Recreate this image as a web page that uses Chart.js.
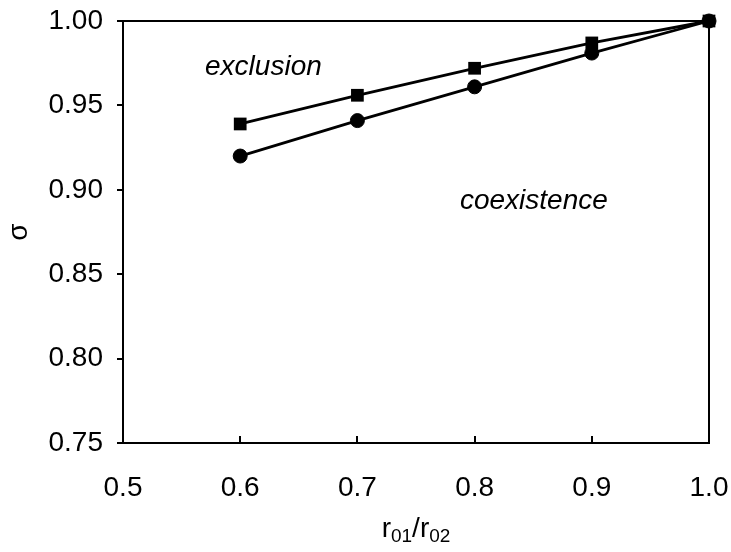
<!DOCTYPE html>
<html>
<head>
<meta charset="utf-8">
<script src="https://cdn.jsdelivr.net/npm/chart.js@4.4.1/dist/chart.umd.min.js"></script>
<style>
  html, body { margin: 0; padding: 0; background: #fff; }
  #wrap { width: 731px; height: 552px; }
</style>
</head>
<body>
<div id="wrap"><canvas id="grafik" width="731" height="552"></canvas></div>
<script>
// data
const ratioX = [0.6, 0.7, 0.8, 0.9, 1.0];
const sigmaKotak = [0.939, 0.956, 0.972, 0.987, 1.0];   // squares
const sigmaBulat = [0.920, 0.941, 0.961, 0.981, 1.0];   // circles
const xTicks = [0.5, 0.6, 0.7, 0.8, 0.9, 1.0];
const yTicks = [0.75, 0.80, 0.85, 0.90, 0.95, 1.00];

const FONT = "'Liberation Sans', Arial, sans-serif";

// frame on top/right, inner x ticks, annotations and x title with subscripts
const bingkaiPlugin = {
  id: 'bingkai',
  afterDraw(chart) {
    const { ctx, chartArea: a, scales } = chart;
    ctx.save();
    ctx.strokeStyle = '#000';
    ctx.lineWidth = 2;
    ctx.strokeRect(a.left, a.top, a.right - a.left, a.bottom - a.top);

    // x ticks point inward
    ctx.beginPath();
    xTicks.slice(1, -1).forEach(v => {
      const px = Math.round(scales.x.getPixelForValue(v));
      ctx.moveTo(px, a.bottom);
      ctx.lineTo(px, a.bottom - 7);
    });
    ctx.stroke();

    // region labels
    ctx.fillStyle = '#000';
    ctx.font = "italic 28px " + FONT;
    ctx.textBaseline = 'alphabetic';
    ctx.textAlign = 'left';
    ctx.fillText('exclusion', scales.x.getPixelForValue(0.570), scales.y.getPixelForValue(0.968));
    ctx.fillText('coexistence', scales.x.getPixelForValue(0.7875), scales.y.getPixelForValue(0.8886));

    // x title: r01/r02
    const bagian = [
      { t: 'r', f: 28, dy: 0 },
      { t: '01', f: 19, dy: 5 },
      { t: '/r', f: 28, dy: 0 },
      { t: '02', f: 19, dy: 5 }
    ];
    let total = 0;
    bagian.forEach(b => { ctx.font = b.f + "px " + FONT; b.w = ctx.measureText(b.t).width; total += b.w; });
    let x = (a.left + a.right) / 2 - total / 2;
    const base = 537;
    bagian.forEach(b => {
      ctx.font = b.f + "px " + FONT;
      ctx.fillText(b.t, x, base + b.dy);
      x += b.w;
    });
    ctx.restore();
  }
};

new Chart(document.getElementById('grafik'), {
  type: 'line',
  data: {
    labels: ratioX,
    datasets: [
      {
        label: 'squares',
        data: ratioX.map((v, i) => ({ x: v, y: sigmaKotak[i] })),
        borderColor: '#000',
        backgroundColor: '#000',
        borderWidth: 2.8,
        pointStyle: 'rect',
        pointRadius: 9,
        pointBorderWidth: 0,
        tension: 0,
        clip: false
      },
      {
        label: 'circles',
        data: ratioX.map((v, i) => ({ x: v, y: sigmaBulat[i] })),
        borderColor: '#000',
        backgroundColor: '#000',
        borderWidth: 2.8,
        pointStyle: 'circle',
        pointRadius: 7,
        pointBorderWidth: 1,
        tension: 0,
        clip: false
      }
    ]
  },
  options: {
    responsive: false,
    animation: false,
    layout: { padding: { top: 21, right: 22, left: 0, bottom: 0 } },
    plugins: {
      legend: { display: false },
      tooltip: { enabled: false }
    },
    scales: {
      x: {
        type: 'linear',
        min: 0.5,
        max: 1.0,
        afterFit(s) { s.height = 109; s.paddingLeft = 0; s.paddingRight = 0; },
        afterBuildTicks(s) { s.ticks = xTicks.map(v => ({ value: v })); },
        grid: { display: false },
        border: { display: true, color: '#000', width: 2 },
        ticks: {
          padding: 20,
          color: '#000',
          font: { family: FONT, size: 28 },
          callback: v => v.toFixed(1)
        }
      },
      y: {
        type: 'linear',
        min: 0.75,
        max: 1.0,
        afterFit(s) { s.width = 123; s.paddingTop = 0; s.paddingBottom = 0; },
        afterBuildTicks(s) { s.ticks = yTicks.map(v => ({ value: v })); },
        grid: { drawOnChartArea: false, tickLength: 6, color: '#000', lineWidth: 2 },
        border: { display: true, color: '#000', width: 2 },
        ticks: {
          padding: 14,
          color: '#000',
          font: { family: FONT, size: 28 },
          callback: v => v.toFixed(2)
        },
        title: {
          display: true,
          text: 'σ',
          color: '#000',
          font: { family: FONT, size: 28 },
          padding: { top: 2, bottom: 0 }
        }
      }
    }
  },
  plugins: [bingkaiPlugin]
});
</script>
</body>
</html>
